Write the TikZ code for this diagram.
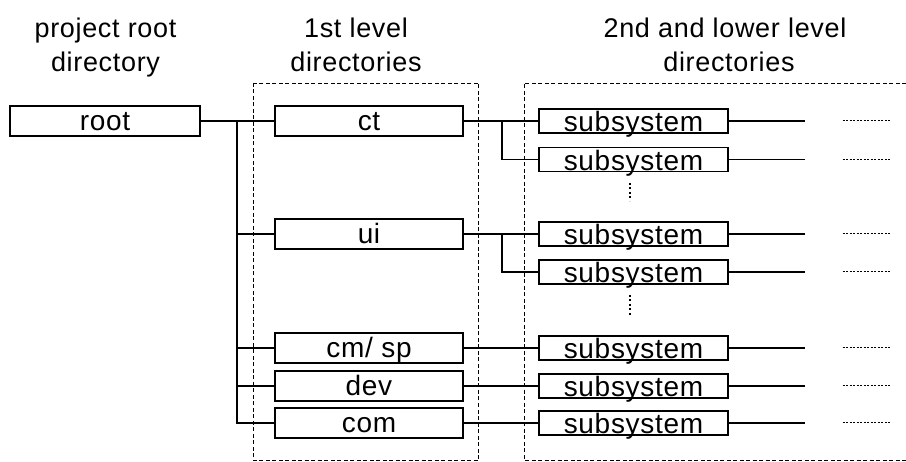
\documentclass[tikz,border=0pt]{standalone}
\usepackage{fontspec}
\setmainfont{Liberation Sans}[LetterSpace=2.5]
\begin{document}
\begin{tikzpicture}[x=1pt,y=-1pt,
  box/.style={draw,line width=1.4pt,inner sep=0pt,minimum height=30pt,
    text height=20pt,text depth=0pt,font=\fontsize{28}{32}\selectfont},
  rootbox/.style={box,minimum width=190pt},
  lvlbox/.style={box,minimum width=188pt},
  subbox/.style={box,minimum width=189pt,minimum height=24pt,text height=22pt},
  conn/.style={line width=1.4pt},
  frame/.style={line width=0.8pt,dash pattern=on 4pt off 2.5pt},
  vdots/.style={line width=1.6pt,dash pattern=on 2pt off 2.5pt},
  hdots/.style={line width=1pt,dash pattern=on 2pt off 1.5pt},
  head/.style={anchor=base,inner sep=0pt,font=\fontsize{27}{31}\selectfont}]
\useasboundingbox (0,0) rectangle (906,462);

% headings
\node[head] (h1a) at (105.5,38) {project root};
\node[head] (h1b) at (105.5,71.5) {directory};
\node[head] (h2a) at (356,38) {1st level};
\node[head] (h2b) at (356,71.5) {directories};
\node[head] (h3a) at (725,38) {2nd and lower level};
\node[head] (h3b) at (729,71.5) {directories};

% dashed frames
\draw[frame] (253,83) rectangle (478.5,460.5);
\draw[frame] (906,83) -- (524,83) -- (524,460.5) -- (906,460.5);

% boxes
\node[rootbox] (root) at (105,121) {root};
\node[lvlbox] (ct)   at (369,121) {ct};
\node[lvlbox] (ui)   at (369,234) {ui};
\node[lvlbox] (cmsp) at (369,348) {cm/ sp};
\node[lvlbox] (dev)  at (369,386) {dev};
\node[lvlbox] (com)  at (369,423) {com};

\node[subbox] (s1) at (633.5,121) {subsystem};
\node[subbox] (s2) at (633.5,159.5) {subsystem};
\node[subbox] (s3) at (633.5,234) {subsystem};
\node[subbox] (s4) at (633.5,272) {subsystem};
\node[subbox] (s5) at (633.5,348) {subsystem};
\node[subbox] (s6) at (633.5,386) {subsystem};
\node[subbox] (s7) at (633.5,423) {subsystem};

% trunk
\coordinate (tr) at (237,121);
\draw[conn] (root) -- (ct);
\draw[conn] (tr) |- (ui.west);
\draw[conn] (tr) |- (cmsp.west);
\draw[conn] (tr) |- (dev.west);
\draw[conn] (tr) |- (com.west);

% second level connectors
\coordinate (b1) at (502,121);
\coordinate (b2) at (502,234);
\draw[conn] (ct) -- (s1);
\draw[conn] (b1) |- (s2.west);
\draw[conn] (ui) -- (s3);
\draw[conn] (b2) |- (s4.west);
\draw[conn] (cmsp) -- (s5);
\draw[conn] (dev) -- (s6);
\draw[conn] (com) -- (s7);

% continuation lines and dots
\foreach \n in {1,...,7}{
  \coordinate (e\n) at ([xshift=76pt]s\n.east);
  \draw[conn] (s\n.east) -- (e\n);
  \coordinate (d\n) at ([xshift=114pt]s\n.east);
  \coordinate (f\n) at ([xshift=163pt]s\n.east);
  \draw[hdots] (d\n) -- (f\n);
}

% vertical ellipses
\coordinate (v1a) at (630,183);
\coordinate (v1b) at (630,201);
\coordinate (v2a) at (630,295);
\coordinate (v2b) at (630,315);
\draw[vdots] (v1a) -- (v1b);
\draw[vdots] (v2a) -- (v2b);
\end{tikzpicture}
\end{document}
